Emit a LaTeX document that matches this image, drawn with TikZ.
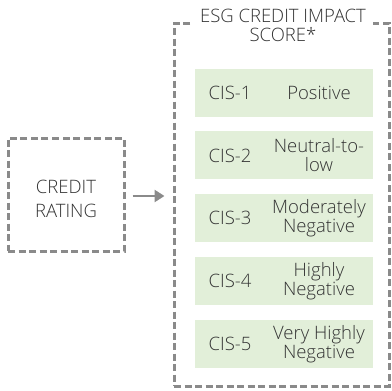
\documentclass[tikz,border=0pt]{standalone}
\usepackage{fontspec}
\setmainfont{Open Sans Light}
\usetikzlibrary{arrows.meta,positioning}
\definecolor{dgray}{HTML}{8A8A8A}
\definecolor{lgreen}{HTML}{E2EFD9}
\definecolor{txt}{HTML}{333333}
\tikzset{
	dbox/.style={draw=dgray, line width=3pt, dash pattern=on 7pt off 3.5pt, inner sep=0pt},
	cisbox/.style={fill=lgreen, minimum width=178pt, minimum height=48pt, inner sep=0pt},
	lbl/.style={text=txt, font=\fontsize{18.5}{19}\selectfont, align=center, inner sep=0pt},
	arr/.style={draw=dgray, line width=2.8pt, -{Triangle[length=10pt,width=12pt]}}
}

\begin{document}
\begin{tikzpicture}[x=1pt,y=-1pt]
	\useasboundingbox (0,0) rectangle (392,391);
	% rating on the left
	\node[dbox, minimum width=116pt, minimum height=113pt] (credit) at (66,194.5) {};
	\node[lbl, font=\fontsize{18.5}{24}\selectfont] (rating) at (66,199) {CREDIT\\RATING};
	% score box on the right
	\node[dbox, minimum width=215pt, minimum height=363pt] (cis) at (281.5,204.5) {};
	\node[lbl, fill=white, inner xsep=7pt, inner ysep=2pt] (title) at (283,25) {ESG CREDIT IMPACT\\SCORE*};
	\draw[arr] ([xshift=7pt,yshift=-1.5pt]credit.east) -- ([xshift=-8pt,yshift=-1.5pt]credit.east -| cis.west);
	% the five levels
	\foreach \num/\desc [count=\ii from 0] in {1/{Positive}, 2/{Neutral-to-\\low}, 3/{Moderately\\Negative}, 4/{Highly\\Negative}, 5/{Very Highly\\Negative}}
	{
		\node[cisbox] (row\num) at (284,92.5+62.9*\ii) {};
		\node[lbl] (lvl\num) at ([xshift=-54pt]row\num.center) {CIS-\num};
		\node[lbl] (desc\num) at ([xshift=35pt]row\num.center) {\desc};
	}
\end{tikzpicture}
\end{document}
